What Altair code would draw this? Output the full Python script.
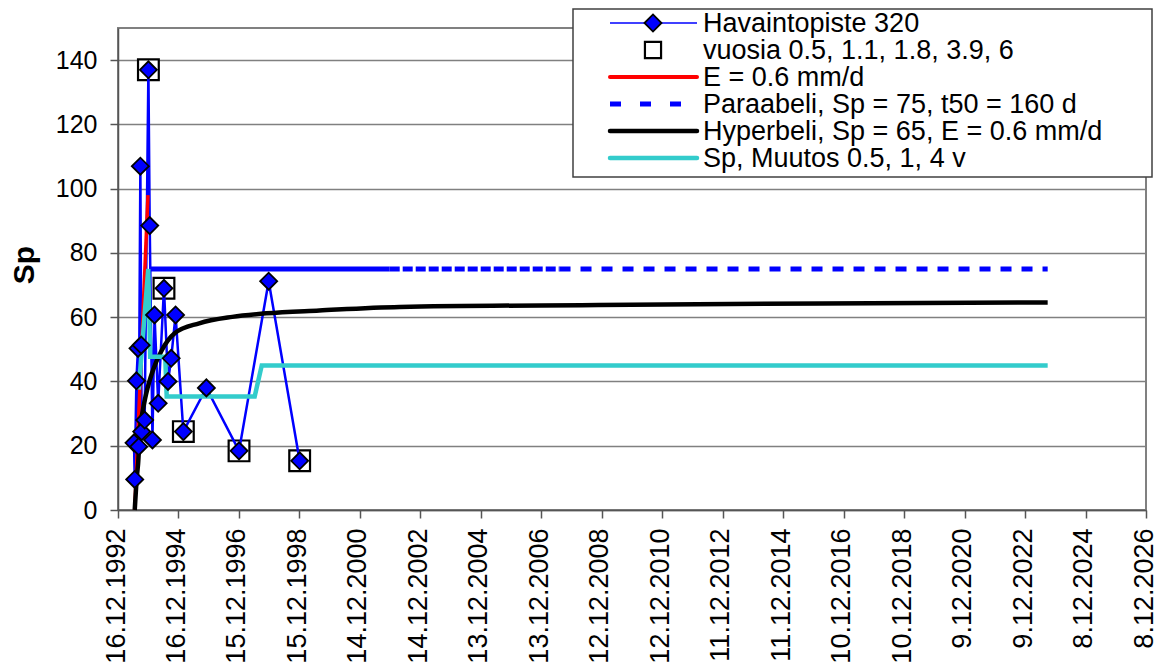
import altair as alt
import pandas as pd

# ---- data (x = days since 16.12.1992, y = Sp) ----
tick_labels = ["16.12.1992", "16.12.1994", "15.12.1996", "15.12.1998", "14.12.2000",
               "14.12.2002", "13.12.2004", "13.12.2006", "12.12.2008", "12.12.2010",
               "11.12.2012", "11.12.2014", "10.12.2016", "10.12.2018", "9.12.2020",
               "9.12.2022", "8.12.2024", "8.12.2026"]
tick_days = [0, 730, 1460, 2190, 2920, 3650, 4380, 5110, 5840, 6570, 7300, 8030,
             8760, 9490, 10220, 10950, 11680, 12410]
y_ticks = [0, 20, 40, 60, 80, 100, 120, 140]

obs_days = [193, 202, 222, 241, 250, 270, 280, 286, 322, 367, 383, 416, 441, 485,
            555, 604, 642, 695, 789, 1067, 1461, 1819, 2193]
obs_sp = [20.9, 9.5, 40.2, 50.3, 19.7, 107, 51.3, 24.4, 28, 137, 88.5, 21.8, 60.7,
          33.2, 69, 40, 47.2, 60.7, 24.4, 38, 18.4, 71.2, 15.3]

box_days = [367, 555, 789, 1461, 2193]
box_sp = [137, 69, 24.4, 18.4, 15.3]

e_days = [202, 362]
e_sp = [0, 98]

par_solid_days = [383, 3280]
par_dense_days = [3280, 5330]
par_sparse_days = [5330, 11223]
par_sp = [75, 75]

hyp_days = [202, 230, 243, 264, 300, 343, 422, 524, 684, 980, 1380, 1790, 2430,
            3400, 5800, 8500, 11223]
hyp_sp = [0, 11, 14.5, 24.5, 31, 36.5, 43.5, 49.5, 55, 58.1, 60.1, 61.2, 62.1,
          63.2, 63.8, 64.3, 64.6]

cy_days = [250, 365, 389, 570, 588, 1650, 1735, 11223]
cy_sp = [37.5, 75, 47.7, 47.7, 35.3, 35.3, 45, 45]

legend_labels = ["Havaintopiste 320", "vuosia 0.5, 1.1, 1.8, 3.9, 6", "E = 0.6 mm/d",
                 "Paraabeli, Sp = 75, t50 = 160 d", "Hyperbeli, Sp = 65, E = 0.6 mm/d",
                 "Sp, Muutos 0.5, 1, 4 v"]

FONT = "Liberation Sans, Arial, sans-serif"

label_expr = "[" + ",".join("'%s'" % t for t in tick_labels) + "][round(datum.value/730)]"

x_axis = alt.Axis(values=tick_days, labelExpr=label_expr, labelAngle=270, labelFontSize=27,
                  labelFont=FONT, labelColor="black", tickSize=8, tickColor="#555",
                  tickWidth=1.5, domainColor="#555", domainWidth=1.5, labelPadding=10,
                  labelOffset=-2, grid=False, title=None, labelFlush=False,
                  labelOverlap=False)
y_axis = alt.Axis(values=y_ticks, labelFontSize=25, labelFont=FONT, labelColor="black",
                  tickSize=8, tickColor="#555", tickWidth=1.5, labelPadding=13,
                  grid=True, gridColor="#808080", gridWidth=1.3, domainColor="#555",
                  domainWidth=1.5, title=None, labelFlush=False)


def X():
    return alt.X("day:Q", scale=alt.Scale(domain=[0, 12410], nice=False, zero=False), axis=x_axis)


def Y():
    return alt.Y("sp:Q", scale=alt.Scale(domain=[0, 150], nice=False), axis=y_axis)


def df(d, s):
    return pd.DataFrame({"day": d, "sp": s})


layers = []
# boxes (behind)
layers.append(alt.Chart(df(box_days, box_sp)).mark_point(
    shape="square", size=430, filled=True, fill="white", stroke="black",
    strokeWidth=2.2, opacity=1).encode(x=X(), y=Y()))
# observation line
layers.append(alt.Chart(df(obs_days, obs_sp)).mark_line(
    color="#0000FF", strokeWidth=2.5).encode(x=X(), y=Y()))
# E = 0.6 mm/d
layers.append(alt.Chart(df(e_days, e_sp)).mark_line(
    color="#FF0000", strokeWidth=3.5).encode(x=X(), y=Y()))
# parabola
layers.append(alt.Chart(df(par_solid_days, par_sp)).mark_line(
    color="#0000FF", strokeWidth=5, strokeCap="butt").encode(x=X(), y=Y()))
layers.append(alt.Chart(df(par_dense_days, par_sp)).mark_line(
    color="#0000FF", strokeWidth=5, strokeCap="butt", strokeDash=[10, 3]).encode(x=X(), y=Y()))
layers.append(alt.Chart(df(par_sparse_days, par_sp)).mark_line(
    color="#0000FF", strokeWidth=5, strokeCap="butt", strokeDash=[11, 10]).encode(x=X(), y=Y()))
# hyperbola
layers.append(alt.Chart(df(hyp_days, hyp_sp)).mark_line(
    color="black", strokeWidth=4.5, interpolate="monotone").encode(x=X(), y=Y()))
# cyan steps
layers.append(alt.Chart(df(cy_days, cy_sp)).mark_line(
    color="#33CCCC", strokeWidth=4.5).encode(x=X(), y=Y()))
# diamonds
layers.append(alt.Chart(df(obs_days, obs_sp)).mark_point(
    shape="diamond", size=290, filled=True, fill="#0000FF", stroke="black",
    strokeWidth=1.8, opacity=1).encode(x=X(), y=Y()))

one = pd.DataFrame({"k": [0]})

# y axis title
layers.append(alt.Chart(one).mark_text(
    text="Sp", font=FONT, fontSize=30, fontWeight="bold", angle=270,
    align="center", baseline="middle", color="black").encode(
    x=alt.value(-93), y=alt.value(237)))

# ---- legend ----
layers.append(alt.Chart(one).mark_rect(
    fill="white", stroke="#404040", strokeWidth=1.5).encode(
    x=alt.value(455), x2=alt.value(1034), y=alt.value(-19), y2=alt.value(149)))
rows = [-5, 22, 49, 76, 103, 130]
lx1, lx2, lxc, tx = 492, 579, 535, 585
layers.append(alt.Chart(one).mark_rule(color="#0000FF", strokeWidth=1.5).encode(
    x=alt.value(lx1), x2=alt.value(lx2), y=alt.value(rows[0])))
layers.append(alt.Chart(one).mark_point(
    shape="diamond", size=290, filled=True, fill="#0000FF", stroke="black",
    strokeWidth=1.8, opacity=1).encode(x=alt.value(lxc), y=alt.value(rows[0])))
layers.append(alt.Chart(one).mark_point(
    shape="square", size=260, filled=True, fill="white", stroke="black",
    strokeWidth=2.2, opacity=1).encode(x=alt.value(lxc), y=alt.value(rows[1])))
layers.append(alt.Chart(one).mark_rule(color="#FF0000", strokeWidth=4, strokeCap="round").encode(
    x=alt.value(lx1), x2=alt.value(lx2), y=alt.value(rows[2])))
layers.append(alt.Chart(one).mark_rule(color="#0000FF", strokeWidth=5, strokeDash=[11, 19],
                                       strokeCap="butt").encode(
    x=alt.value(lx1), x2=alt.value(lx2), y=alt.value(rows[3])))
layers.append(alt.Chart(one).mark_rule(color="black", strokeWidth=4.5, strokeCap="round").encode(
    x=alt.value(lx1), x2=alt.value(lx2), y=alt.value(rows[4])))
layers.append(alt.Chart(one).mark_rule(color="#33CCCC", strokeWidth=4.5, strokeCap="round").encode(
    x=alt.value(lx1), x2=alt.value(lx2), y=alt.value(rows[5])))
for lab, r in zip(legend_labels, rows):
    layers.append(alt.Chart(one).mark_text(
        text=lab, font=FONT, fontSize=27, align="left", baseline="middle",
        color="black").encode(x=alt.value(tx), y=alt.value(r + 1)))

chart = alt.layer(*layers).properties(
    width=1028, height=482,
    autosize=alt.AutoSizeParams(type="none"),
    padding={"left": 110, "top": 20, "right": 8, "bottom": 156},
    background="white",
).configure_view(stroke="#808080", strokeWidth=2)

chart.save("out.html", embed_options={"renderer": "svg", "actions": False})
